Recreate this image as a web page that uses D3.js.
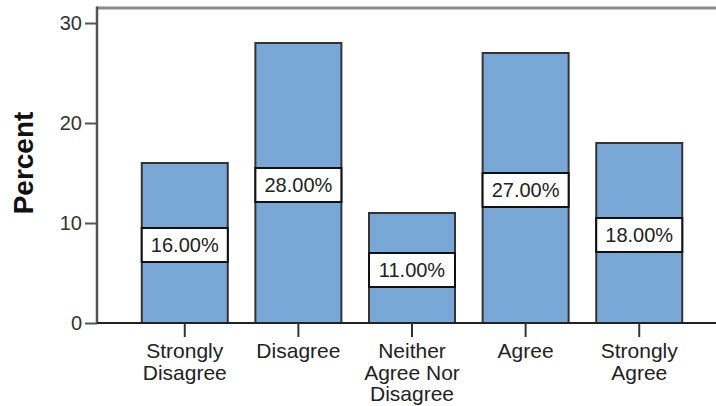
<!DOCTYPE html>
<html><head><meta charset="utf-8">
<script src="https://cdn.jsdelivr.net/npm/d3@7"></script>
<style>html,body{margin:0;padding:0;background:#fff;}svg{display:block;}</style>
</head><body>
<svg id="chart" width="716" height="406"></svg>
<script>
const categories = [["Strongly","Disagree"],["Disagree"],["Neither","Agree Nor","Disagree"],["Agree"],["Strongly","Agree"]];
const values = [16, 28, 11, 27, 18];
const valueLabels = ["16.00%","28.00%","11.00%","27.00%","18.00%"];
const yTicks = [0, 10, 20, 30];
const yTitle = "Percent";

const svg = d3.select("#chart");
const font = "'Liberation Sans', Arial, sans-serif";
const mLeft = 97, mRight = 727, mTop = 8, mBottom = 323;

const x = d3.scaleBand().domain(d3.range(values.length)).range([mLeft, mRight])
  .paddingInner(0.243).paddingOuter(0.394);
const y = d3.scaleLinear().domain([0, 31.5]).range([mBottom, mTop]);

// frame
svg.append("line").attr("x1", mLeft).attr("x2", 716).attr("y1", mTop).attr("y2", mTop)
  .attr("stroke", "#8a8a8a").attr("stroke-width", 3);
svg.append("line").attr("x1", mLeft).attr("x2", mLeft).attr("y1", mTop - 1.5).attr("y2", mBottom)
  .attr("stroke", "#555").attr("stroke-width", 2.5);

// bars
svg.append("g").selectAll("rect").data(values).join("rect")
  .attr("x", (d, i) => x(i)).attr("width", x.bandwidth())
  .attr("y", d => y(d)).attr("height", d => y(0) - y(d))
  .attr("fill", "#79a8d6").attr("stroke", "#333").attr("stroke-width", 2);

// y axis
const yAxis = svg.append("g").attr("transform", `translate(${mLeft},0)`)
  .call(d3.axisLeft(y).tickValues(yTicks).tickSize(12).tickPadding(3).tickFormat(d3.format("d")));
yAxis.select(".domain").remove();
yAxis.selectAll(".tick line").attr("stroke", "#555").attr("stroke-width", 2);
yAxis.selectAll(".tick text").attr("font-family", font).attr("font-size", 20).attr("fill", "#333");

// x axis
svg.append("line").attr("x1", mLeft).attr("x2", 716).attr("y1", mBottom).attr("y2", mBottom)
  .attr("stroke", "#222").attr("stroke-width", 2);
const xAxis = svg.append("g").attr("transform", `translate(0,${mBottom})`)
  .call(d3.axisBottom(x).tickSize(14).tickFormat(""));
xAxis.select(".domain").remove();
xAxis.selectAll(".tick line").attr("stroke", "#333").attr("stroke-width", 2);

svg.append("g").selectAll("text").data(categories).join("text")
  .attr("text-anchor", "middle").attr("font-family", font).attr("font-size", 21).attr("fill", "#222")
  .attr("transform", (d, i) => `translate(${x(i) + x.bandwidth() / 2},358)`)
  .selectAll("tspan").data(d => d).join("tspan")
  .attr("x", 0).attr("dy", (d, j) => j === 0 ? 0 : 21.5).text(d => d);

// value boxes
const boxes = svg.append("g").selectAll("g").data(values).join("g")
  .attr("transform", (d, i) => `translate(${x(i)},${y(d / 2) + 2})`);
boxes.append("rect").attr("x", 0).attr("width", x.bandwidth()).attr("y", -17).attr("height", 34)
  .attr("fill", "#fff").attr("stroke", "#111").attr("stroke-width", 2);
boxes.append("text").attr("x", x.bandwidth() / 2).attr("y", 0).attr("dy", "0.36em")
  .attr("text-anchor", "middle").attr("font-family", font).attr("font-size", 20).attr("fill", "#222")
  .text((d, i) => valueLabels[i]);

// y title
svg.append("text").attr("transform", "translate(33,163) rotate(-90)")
  .attr("text-anchor", "middle").attr("font-family", font).attr("font-size", 28)
  .attr("font-weight", "bold").attr("fill", "#111").text(yTitle);
</script>
</body></html>
